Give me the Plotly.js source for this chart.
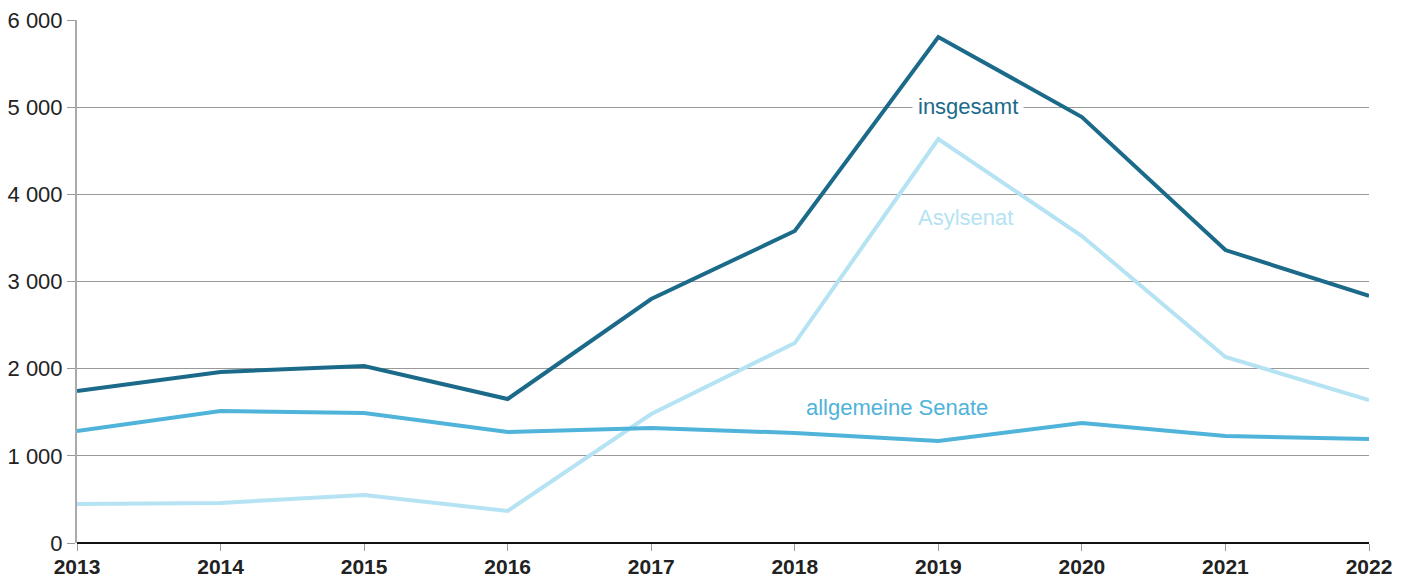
<!DOCTYPE html>
<html>
<head>
<meta charset="utf-8">
<script src="https://cdn.plot.ly/plotly-3.0.1.min.js"></script>
<style>html,body{margin:0;padding:0;background:#fff;}#chart{width:1414px;height:581px;}</style>
</head>
<body>
<div id="chart"></div>
<script>
const years = [2013, 2014, 2015, 2016, 2017, 2018, 2019, 2020, 2021, 2022];
const insgesamt = [1744, 1962, 2030, 1652, 2799, 3579, 5805, 4887, 3361, 2834];
const asylsenat = [447, 459, 551, 367, 1480, 2294, 4635, 3522, 2134, 1640];
const allgemeine = [1285, 1514, 1491, 1273, 1319, 1262, 1170, 1377, 1227, 1193];
const yTickVals = [0, 1000, 2000, 3000, 4000, 5000, 6000];
const yTickText = ['0', '1 000', '2 000', '3 000', '4 000', '5 000', '6 000'];
const seriesNames = ['insgesamt', 'Asylsenat', 'allgemeine Senate'];

const cDark = '#1b6a8a', cLight = '#b5e3f3', cMid = '#4fb3da';
const font = 'Liberation Sans, Arial, sans-serif';

const traces = [
  {x: years, y: asylsenat, name: seriesNames[1], mode: 'lines', line: {color: cLight, width: 4}, cliponaxis: false},
  {x: years, y: allgemeine, name: seriesNames[2], mode: 'lines', line: {color: cMid, width: 4}, cliponaxis: false},
  {x: years, y: insgesamt, name: seriesNames[0], mode: 'lines', line: {color: cDark, width: 4}, cliponaxis: false}
];

const layout = {
  width: 1414, height: 581,
  margin: {l: 77, r: 45, t: 20, b: 38},
  paper_bgcolor: '#fff', plot_bgcolor: '#fff',
  showlegend: false,
  font: {family: font, size: 22, color: '#222'},
  xaxis: {
    range: [2013, 2022], tickvals: years, ticktext: years.map(String),
    showgrid: false, zeroline: false, showline: false,
    ticks: 'outside', ticklen: 7, tickcolor: '#999', tickwidth: 1,
    ticklabelstandoff: -2,
    tickfont: {family: font, size: 21, color: '#222', weight: 'bold'}
  },
  yaxis: {
    range: [0, 6000], tickvals: yTickVals, ticktext: yTickText,
    showgrid: true, gridcolor: '#999', gridwidth: 1,
    zeroline: true, zerolinecolor: '#111', zerolinewidth: 2,
    showline: true, linecolor: '#aaa', linewidth: 2,
    ticks: 'outside', ticklen: 8, tickcolor: '#999', tickwidth: 1,
    tickfont: {family: font, size: 22, color: '#222'}
  },
  annotations: [
    {x: 2019.21, y: 5002, text: seriesNames[0], showarrow: false, font: {family: font, size: 22, color: cDark}, bgcolor: '#fff', borderpad: 5},
    {x: 2019.19, y: 3740, text: seriesNames[1], showarrow: false, font: {family: font, size: 22, color: cLight}},
    {x: 2018.71, y: 1549, text: seriesNames[2], showarrow: false, font: {family: font, size: 22, color: cMid}}
  ]
};

Plotly.newPlot('chart', traces, layout, {displayModeBar: false, staticPlot: true});
</script>
</body>
</html>
